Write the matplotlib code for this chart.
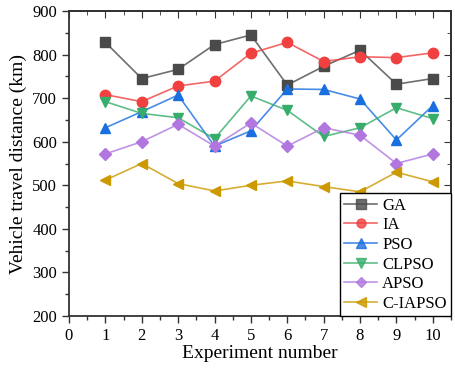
import matplotlib
matplotlib.use('Agg')
import matplotlib.pyplot as plt
from matplotlib.ticker import MultipleLocator
from matplotlib.lines import Line2D

plt.rcParams['font.family'] = ['Liberation Serif', 'DejaVu Serif']

# data
runs = [1, 2, 3, 4, 5, 6, 7, 8, 9, 10]
ga     = [828, 745, 766, 823, 845, 730, 773, 810, 732, 745]
ia     = [708, 692, 728, 739, 803, 828, 784, 795, 793, 804]
pso    = [632, 669, 707, 590, 625, 721, 720, 698, 604, 683]
clpso  = [692, 665, 655, 607, 705, 672, 612, 632, 678, 653]
apso   = [572, 600, 640, 590, 643, 590, 632, 615, 550, 572]
ciapso = [512, 550, 504, 487, 500, 510, 497, 485, 530, 508]

series = [
    ('GA', ga, '#4a4a4a', 's'),
    ('IA', ia, '#f14040', 'o'),
    ('PSO', pso, '#1a6fdf', '^'),
    ('CLPSO', clpso, '#37ad6b', 'v'),
    ('APSO', apso, '#b177de', 'D'),
    ('C-IAPSO', ciapso, '#cc9900', '<'),
]

fig = plt.figure(figsize=(4.55, 3.7), dpi=100)
ax = fig.add_axes([0.1516, 0.1459, 0.8396, 0.8244])

for name, vals, col, mk in series:
    ms = 6 if mk == 'D' else 7.5
    ax.plot(runs, vals, color=col, lw=1.2, alpha=0.8)
    ax.plot(runs, vals, color=col, lw=0, marker=mk, markersize=ms)

# legend: line + marker, lighter line like the original
handles = [Line2D([], [], color=c, lw=1.2, alpha=0.8, marker=m,
                  markersize=(5 if m == 'D' else 6.5),
                  markerfacecolor=c, markeredgecolor=c)
           for _, _, c, m in series]
leg = ax.legend(handles, [s[0] for s in series], loc='lower right',
                fontsize=12, frameon=True, fancybox=False, edgecolor='black',
                framealpha=1, borderaxespad=0, handlelength=2.0,
                labelspacing=0.22, handletextpad=0.3, borderpad=0.25)
leg.get_frame().set_linewidth(1.0)

ax.set_xlim(0, 10.5)
ax.set_ylim(200, 900)
ax.xaxis.set_major_locator(MultipleLocator(1))
ax.xaxis.set_minor_locator(MultipleLocator(0.5))
ax.yaxis.set_major_locator(MultipleLocator(100))
ax.yaxis.set_minor_locator(MultipleLocator(50))

ax.tick_params(which='both', direction='out', labelsize=12, color='#333333')
ax.tick_params(which='major', length=5, width=1)
ax.tick_params(which='minor', length=3, width=1)

# mirrored ticks on top and right, pointing inward
axt = ax.secondary_xaxis('top')
axt.xaxis.set_major_locator(MultipleLocator(1))
axt.xaxis.set_minor_locator(MultipleLocator(0.5))
axt.tick_params(which='both', direction='in', labeltop=False, color='#333333')
axt.tick_params(which='major', length=5)
axt.tick_params(which='minor', length=3)
axr = ax.secondary_yaxis('right')
axr.yaxis.set_major_locator(MultipleLocator(100))
axr.yaxis.set_minor_locator(MultipleLocator(50))
axr.tick_params(which='both', direction='in', labelright=False, color='#333333')
axr.tick_params(which='major', length=5)
axr.tick_params(which='minor', length=3)

for a in (ax, axt, axr):
    for sp in a.spines.values():
        sp.set_linewidth(1.3)
        sp.set_color('#333333')

ax.set_xlabel('Experiment number', fontsize=14, labelpad=1)
ax.set_ylabel('Vehicle travel distance (km)', fontsize=14, labelpad=4)

fig.savefig('out.png', dpi=100)
